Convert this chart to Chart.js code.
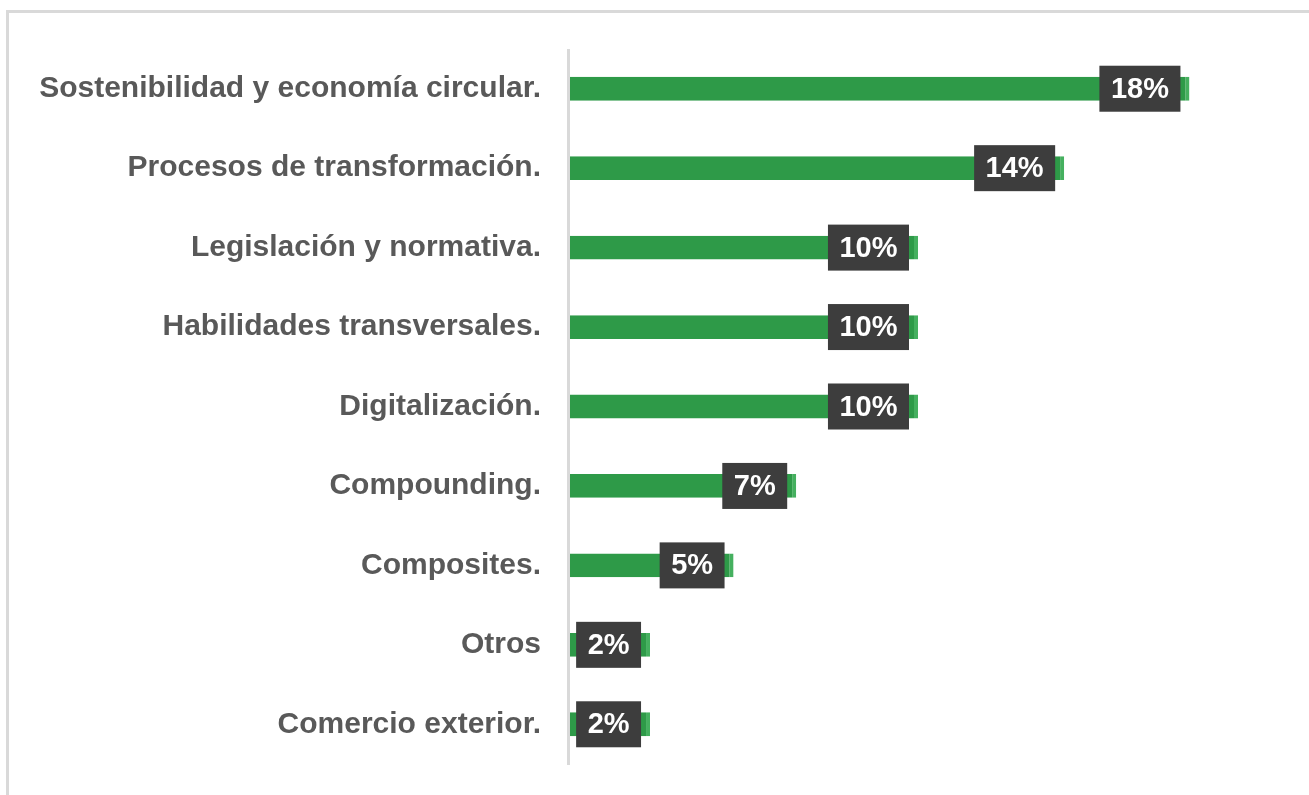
<!DOCTYPE html>
<html>
<head>
<meta charset="utf-8">
<script src="https://cdn.jsdelivr.net/npm/chart.js@4"></script>
<style>
  html, body { margin: 0; padding: 0; background: #ffffff; }
  #wrap { position: relative; width: 1309px; height: 795px; }
</style>
</head>
<body>
<div id="wrap"><canvas id="topicsChart" width="1309" height="795"></canvas></div>
<script>
// Temas de formación (porcentaje de respuestas)
const categories = [
    'Sostenibilidad y economía circular.',
    'Procesos de transformación.',
    'Legislación y normativa.',
    'Habilidades transversales.',
    'Digitalización.',
    'Compounding.',
    'Composites.',
    'Otros',
    'Comercio exterior.'
];
const values = [17.8, 14.2, 10.0, 10.0, 10.0, 6.5, 4.7, 2.3, 2.3];
const xMax = 20;

// outer frame (top + left edges) and the category axis line
const framePlugin = {
    id: 'framePlugin',
    beforeDraw(chart) {
        const ctx = chart.ctx;
        ctx.save();
        ctx.fillStyle = '#ffffff';
        ctx.fillRect(0, 0, chart.width, chart.height);
        ctx.fillStyle = '#d9d9d9';
        ctx.fillRect(6, 10, chart.width - 6, 3);
        ctx.fillRect(6, 10, 3, chart.height - 10);
        ctx.restore();
    },
    beforeDatasetsDraw(chart) {
        const ctx = chart.ctx;
        const area = chart.chartArea;
        ctx.save();
        ctx.fillStyle = '#d9d9d9';
        ctx.fillRect(area.left - 3, area.top, 3, area.bottom - area.top + 1);
        ctx.restore();
    }
};

// dark value boxes sitting at the end of each bar
const valueBoxes = {
    id: 'valueBoxes',
    afterDatasetsDraw(chart) {
        const ctx = chart.ctx;
        const meta = chart.getDatasetMeta(0);
        ctx.save();
        ctx.font = 'bold 29px "Liberation Sans", Arial, sans-serif';
        ctx.textAlign = 'center';
        ctx.textBaseline = 'middle';
        meta.data.forEach((bar, i) => {
            const text = Math.round(values[i]) + '%';
            const w = ctx.measureText(text).width + 23;
            const h = 46;
            const right = bar.x - 9;
            ctx.fillStyle = '#3d3d3d';
            ctx.fillRect(right - w, bar.y - h / 2, w, h);
            ctx.fillStyle = '#ffffff';
            ctx.fillText(text, right - w / 2, bar.y + 1);
        });
        ctx.restore();
    }
};

const ctx = document.getElementById('topicsChart').getContext('2d');
const topicsChart = new Chart(ctx, {
    type: 'bar',
    data: {
        labels: categories,
        datasets: [{
            data: values,
            backgroundColor: '#2e9a48',
            borderColor: '#45b05f',
            borderWidth: { right: 4, left: 0, top: 0, bottom: 0 },
            borderSkipped: false,
            barPercentage: 0.3,
            categoryPercentage: 1.0
        }]
    },
    options: {
        indexAxis: 'y',
        responsive: false,
        animation: false,
        layout: {
            padding: { top: 49, bottom: 31, right: 43, left: 0 }
        },
        scales: {
            x: {
                display: false,
                min: 0,
                max: xMax
            },
            y: {
                afterFit: function (scale) {
                    scale.width = 570;
                    scale.paddingTop = 0;
                    scale.paddingBottom = 0;
                },
                grid: { display: false, drawTicks: false },
                border: { display: false },
                ticks: {
                    padding: 29,
                    color: '#595959',
                    font: {
                        family: '"Liberation Sans", Arial, sans-serif',
                        size: 30,
                        weight: 'bold'
                    }
                }
            }
        },
        plugins: {
            legend: { display: false },
            tooltip: { enabled: false }
        }
    },
    plugins: [framePlugin, valueBoxes]
});
</script>
</body>
</html>
